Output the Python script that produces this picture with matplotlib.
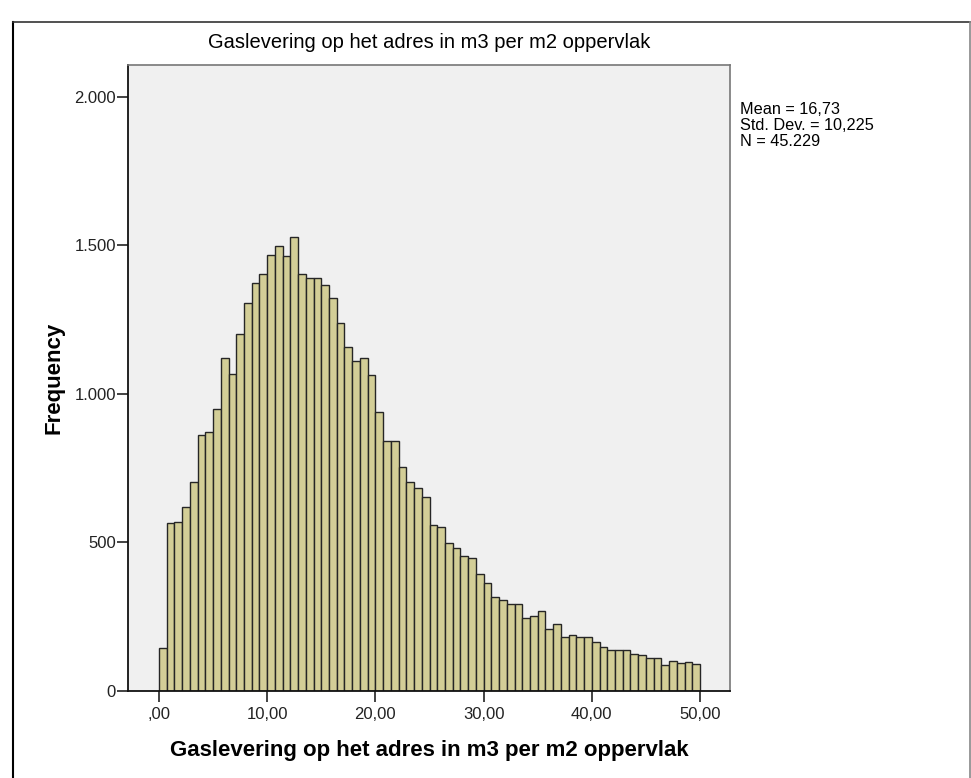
import numpy as np
import matplotlib
matplotlib.use("Agg")
import matplotlib.pyplot as plt
from matplotlib.lines import Line2D

plt.rcParams["font.family"] = ["Liberation Sans", "DejaVu Sans"]

# histogram: 70 bins between 0 and 50
bin_lo = 0.0
bin_hi = 50.0
counts = [
    145, 566, 569, 617, 704, 862, 870, 947, 1119, 1066,
    1201, 1304, 1373, 1403, 1468, 1497, 1464, 1529, 1403, 1388,
    1388, 1366, 1324, 1237, 1158, 1111, 1121, 1063, 937, 842,
    840, 754, 704, 681, 653, 558, 552, 496, 479, 453,
    446, 393, 361, 316, 305, 291, 291, 246, 253, 269,
    207, 224, 180, 187, 181, 181, 165, 146, 137, 137,
    137, 123, 120, 111, 111, 86, 100, 94, 98, 89,
]
x_ticks = [0, 10, 20, 30, 40, 50]
x_ticklabels = [",00", "10,00", "20,00", "30,00", "40,00", "50,00"]
y_ticks = [0, 500, 1000, 1500, 2000]
y_ticklabels = ["0", "500", "1.000", "1.500", "2.000"]
title = "Gaslevering op het adres in m3 per m2 oppervlak"
stats_text = "Mean = 16,73\nStd. Dev. = 10,225\nN = 45.229"

edges = np.linspace(bin_lo, bin_hi, len(counts) + 1)
width = edges[1] - edges[0]

fig = plt.figure(figsize=(9.71, 7.78), dpi=100)
ax = fig.add_axes([0.1323, 0.1122, 0.6195, 0.8043])
ax.set_facecolor("#f0f0f0")

ax.bar(edges[:-1], counts, width=width, align="edge",
       color="#d3ce97", edgecolor="#262626", linewidth=1.0)

ax.set_xlim(-2.82, 52.77)
ax.set_ylim(0, 2107)
ax.set_xticks(x_ticks)
ax.set_xticklabels(x_ticklabels)
ax.set_yticks(y_ticks)
ax.set_yticklabels(y_ticklabels)
ax.tick_params(axis="both", length=8, width=1.2, labelsize=12, colors="#222222")
ax.tick_params(axis="x", pad=4)
ax.tick_params(axis="y", pad=1)

for side in ["left", "bottom"]:
    ax.spines[side].set_color("#111111")
    ax.spines[side].set_linewidth(1.3)
for side in ["top", "right"]:
    ax.spines[side].set_color("#777777")
    ax.spines[side].set_linewidth(1.2)

ax.set_title(title, fontsize=14.5, pad=12)
ax.set_xlabel(title, fontsize=16, fontweight="bold", labelpad=13)
ax.set_ylabel("Frequency", fontsize=16, fontweight="bold", labelpad=7)

fig.text(0.7625, 0.869, stats_text, fontsize=11.7, va="top", ha="left",
         linespacing=1.08)

# outer frame of the output viewer
fig.add_artist(Line2D([13 / 971, 13 / 971], [0, 1 - 22 / 778],
                      transform=fig.transFigure, color="black", lw=1.5))
fig.add_artist(Line2D([13 / 971, 970 / 971], [1 - 22 / 778, 1 - 22 / 778],
                      transform=fig.transFigure, color="#333333", lw=1.2))
fig.add_artist(Line2D([970 / 971, 970 / 971], [0, 1 - 22 / 778],
                      transform=fig.transFigure, color="#888888", lw=1.2))

fig.savefig("out.png", dpi=100)
plt.close(fig)
